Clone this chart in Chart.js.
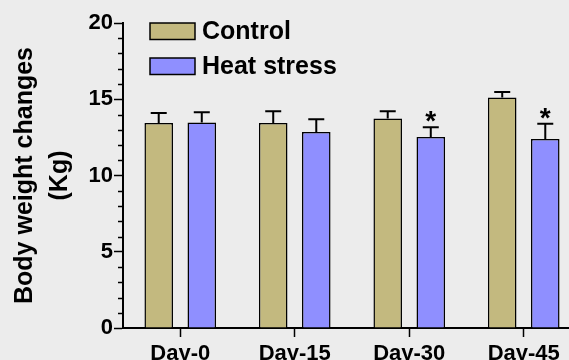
<!DOCTYPE html>
<html>
<head>
<meta charset="utf-8">
<script src="https://cdn.jsdelivr.net/npm/chart.js@4/dist/chart.umd.min.js"></script>
<style>
  html, body { margin: 0; padding: 0; background: #ececec; overflow: hidden; }
  #wrap { width: 590px; height: 380px; }
</style>
</head>
<body>
<div id="wrap"><canvas id="chart" width="590" height="380"></canvas></div>
<script>
// data
const days = ["Day-0", "Day-15", "Day-30", "Day-45"];
const controlMean = [13.44, 13.44, 13.73, 15.11];
const controlErr = [0.66, 0.77, 0.48, 0.37];
const heatMean = [13.47, 12.85, 12.52, 12.39];
const heatErr = [0.67, 0.84, 0.64, 1.01];
const heatSig = ["", "", "*", "*"];
const yTicks = [0, 5, 10, 15, 20];

const BG = "#ececec";
const FONT = "'Liberation Sans', Arial, sans-serif";

// background
const bgPlugin = {
  id: "bg",
  beforeDraw(chart) {
    const ctx = chart.ctx;
    ctx.save();
    ctx.fillStyle = BG;
    ctx.fillRect(0, 0, chart.width, chart.height);
    ctx.restore();
  }
};

// minor ticks on y, error bars, asterisks, legend
const extras = {
  id: "extras",
  afterDatasetsDraw(chart) {
    const ctx = chart.ctx;
    const y = chart.scales.y;
    const left = chart.chartArea.left;
    ctx.save();
    ctx.strokeStyle = "#000";
    ctx.lineWidth = 1.5;
    for (let v = 0; v <= 20; v++) {
      if (v % 5 === 0) continue;
      const py = Math.round(y.getPixelForValue(v)) + 0.5;
      ctx.beginPath();
      ctx.moveTo(left - 5, py);
      ctx.lineTo(left, py);
      ctx.stroke();
    }

    // error bars (up only)
    const errs = [controlErr, heatErr];
    chart.data.datasets.forEach((ds, di) => {
      const meta = chart.getDatasetMeta(di);
      meta.data.forEach((bar, i) => {
        const top = y.getPixelForValue(ds.data[i]);
        const cap = y.getPixelForValue(ds.data[i] + errs[di][i]);
        ctx.lineWidth = 2;
        ctx.beginPath();
        ctx.moveTo(bar.x, top);
        ctx.lineTo(bar.x, cap);
        ctx.moveTo(bar.x - 8, cap);
        ctx.lineTo(bar.x + 8, cap);
        ctx.stroke();
        if (di === 1 && heatSig[i]) {
          ctx.fillStyle = "#000";
          ctx.font = "bold 28px " + FONT;
          ctx.textAlign = "center";
          ctx.textBaseline = "alphabetic";
          ctx.fillText(heatSig[i], bar.x, cap + 3);
        }
      });
    });

    // legend
    ctx.font = "bold 25px " + FONT;
    ctx.textAlign = "left";
    ctx.textBaseline = "middle";
    chart.data.datasets.forEach((ds, di) => {
      const by = 23 + di * 35;
      ctx.fillStyle = ds.backgroundColor;
      ctx.fillRect(150, by, 45, 16.5);
      ctx.lineWidth = 1.5;
      ctx.strokeRect(150, by, 45, 16.5);
      ctx.fillStyle = "#000";
      ctx.fillText(ds.label, 202, by + 9);
    });
    ctx.restore();
  }
};

new Chart(document.getElementById("chart"), {
  type: "bar",
  data: {
    labels: days,
    datasets: [
      { label: "Control", data: controlMean, backgroundColor: "#c3b97f", borderColor: "#000", borderWidth: 1.5 },
      { label: "Heat stress", data: heatMean, backgroundColor: "#8f8fff", borderColor: "#000", borderWidth: 1.5 }
    ]
  },
  options: {
    responsive: false,
    animation: false,
    categoryPercentage: 0.752,
    barPercentage: 0.663,
    layout: { padding: { top: 23, right: 9, left: 0, bottom: 0 } },
    plugins: { legend: { display: false }, tooltip: { enabled: false } },
    scales: {
      x: {
        grid: { offset: false, drawOnChartArea: false, tickLength: 9, tickColor: "#000", tickWidth: 1.5 },
        border: { color: "#000", width: 2 },
        ticks: { color: "#000", font: { family: FONT, size: 22, weight: "bold" }, padding: 4 },
        afterFit(s) { s.height = 52; }
      },
      y: {
        min: 0, max: 20,
        afterBuildTicks(s) { s.ticks = yTicks.map(v => ({ value: v })); },
        grid: { drawOnChartArea: false, tickLength: 9, tickColor: "#000", tickWidth: 1.5 },
        border: { color: "#000", width: 2 },
        ticks: { color: "#000", font: { family: FONT, size: 22, weight: "bold" }, padding: 1 },
        title: {
          display: true,
          text: ["Body weight changes", "(Kg)"],
          color: "#000",
          font: { family: FONT, size: 25, weight: "bold", lineHeight: 1.4 },
          padding: { top: 8, bottom: 0 }
        },
        afterFit(s) { s.width = 123; }
      }
    }
  },
  plugins: [bgPlugin, extras]
});
</script>
</body>
</html>
